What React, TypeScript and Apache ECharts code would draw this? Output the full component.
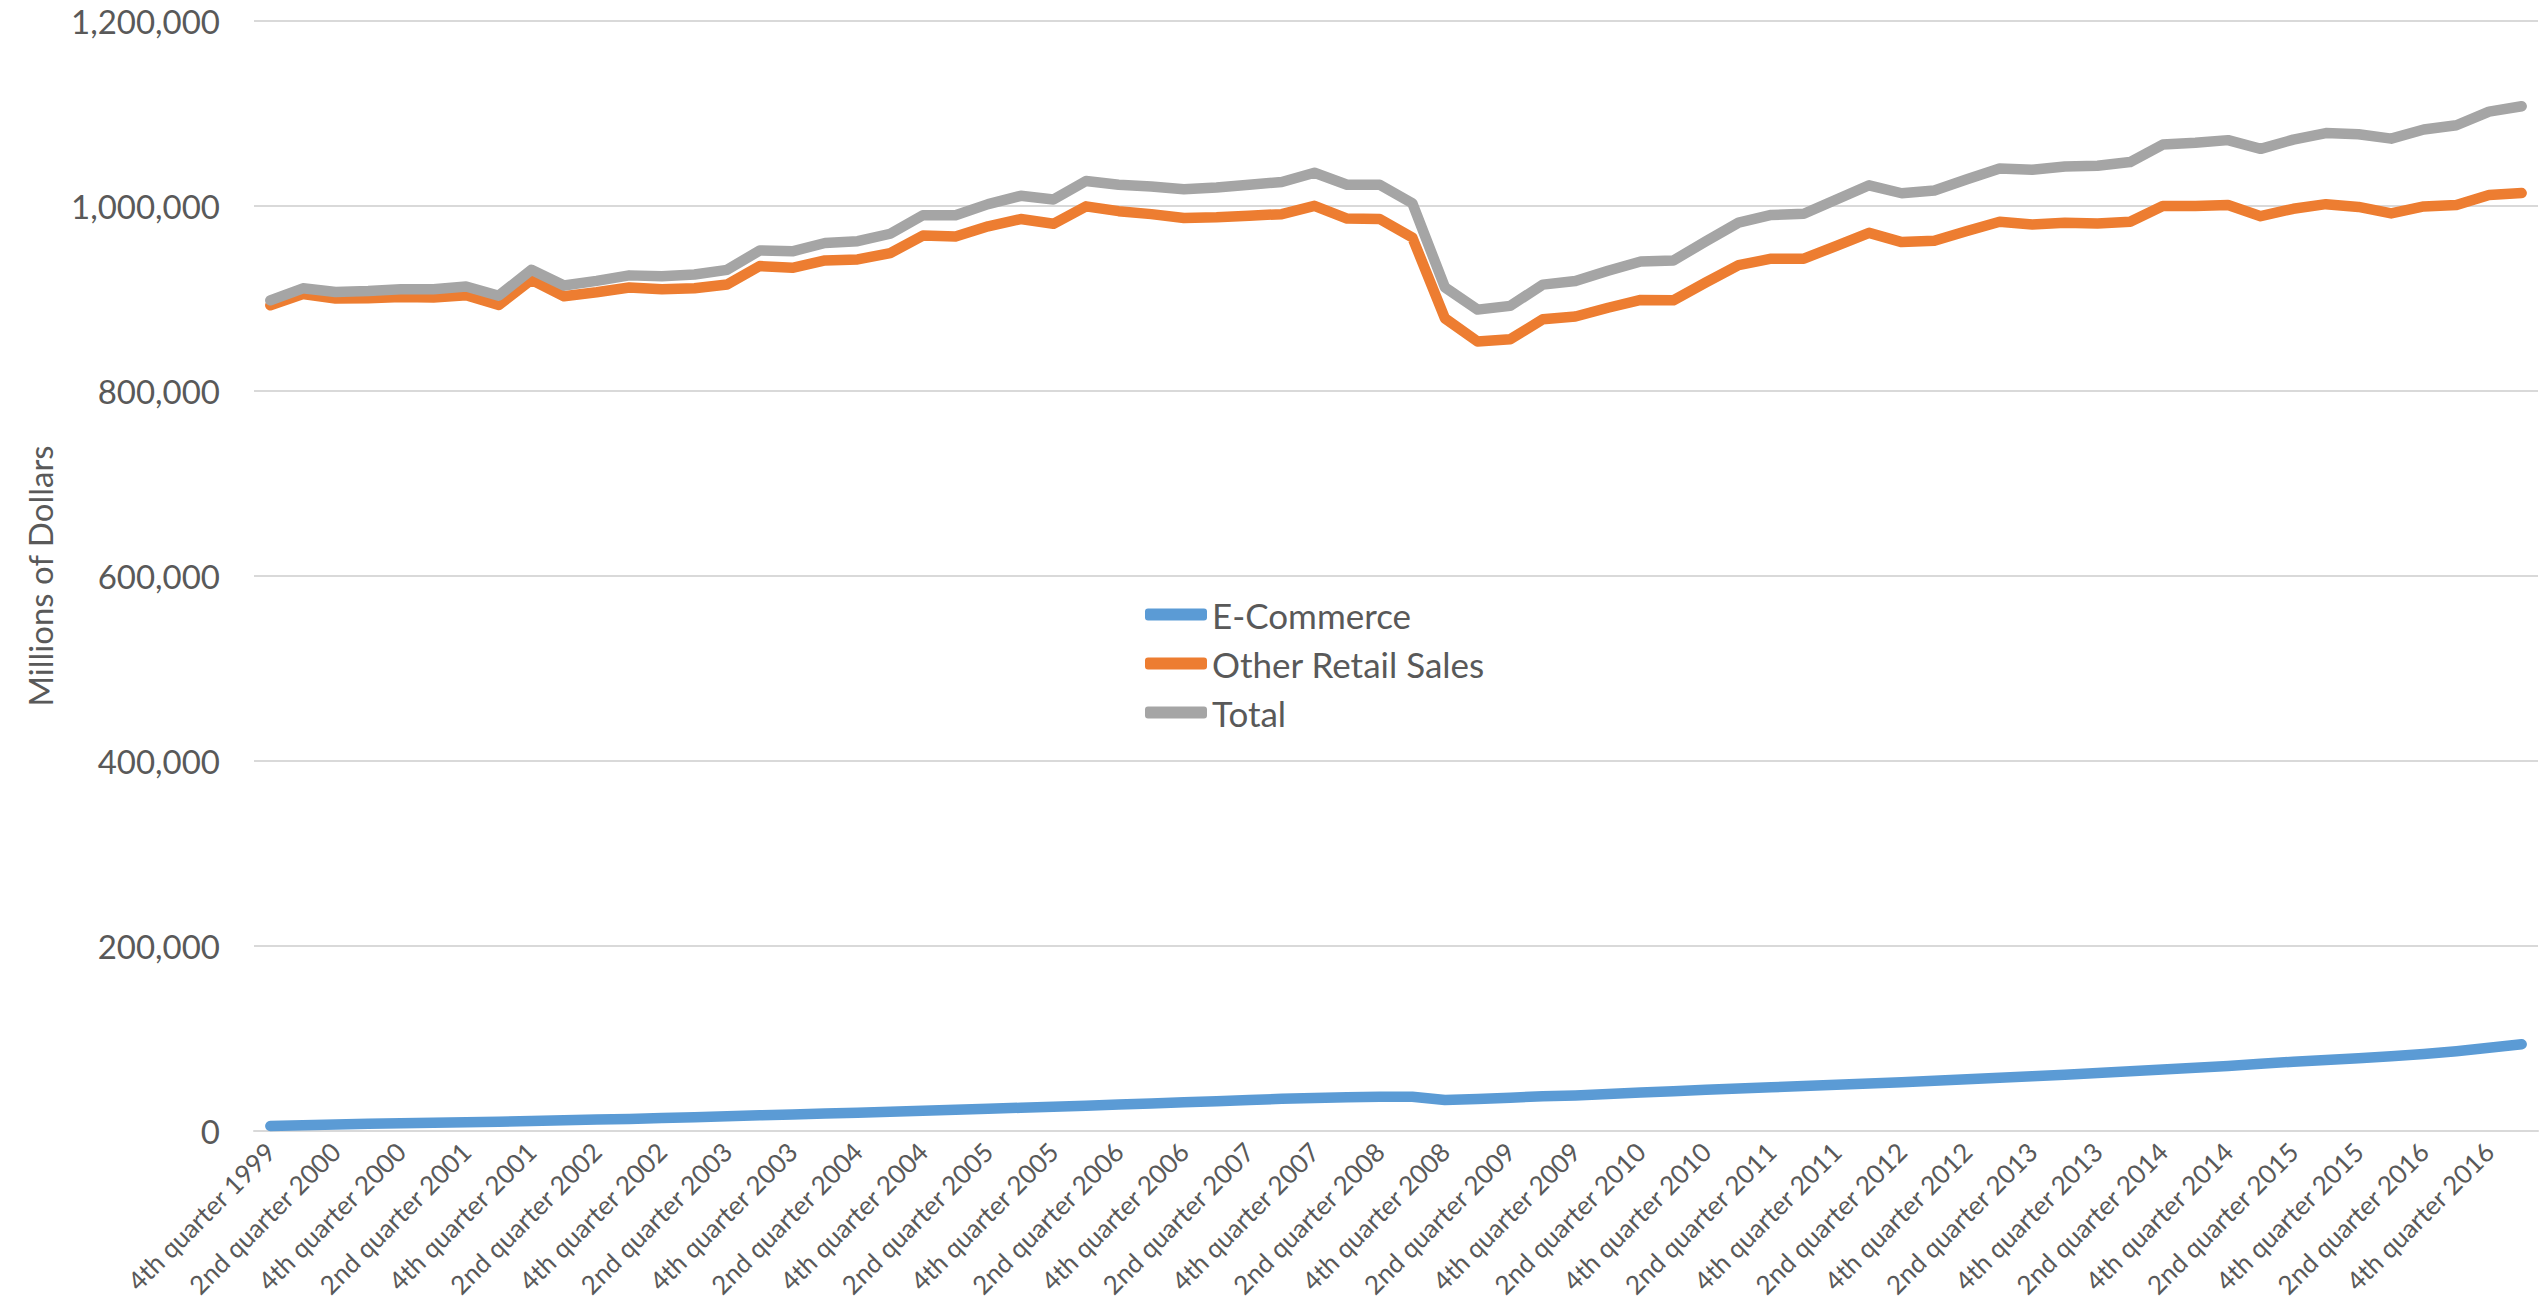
import React, { useEffect, useRef } from "react";
import * as echarts from "echarts";

const categories: string[] = [
  "4th quarter 1999",
  "1st quarter 2000", "2nd quarter 2000", "3rd quarter 2000", "4th quarter 2000",
  "1st quarter 2001", "2nd quarter 2001", "3rd quarter 2001", "4th quarter 2001",
  "1st quarter 2002", "2nd quarter 2002", "3rd quarter 2002", "4th quarter 2002",
  "1st quarter 2003", "2nd quarter 2003", "3rd quarter 2003", "4th quarter 2003",
  "1st quarter 2004", "2nd quarter 2004", "3rd quarter 2004", "4th quarter 2004",
  "1st quarter 2005", "2nd quarter 2005", "3rd quarter 2005", "4th quarter 2005",
  "1st quarter 2006", "2nd quarter 2006", "3rd quarter 2006", "4th quarter 2006",
  "1st quarter 2007", "2nd quarter 2007", "3rd quarter 2007", "4th quarter 2007",
  "1st quarter 2008", "2nd quarter 2008", "3rd quarter 2008", "4th quarter 2008",
  "1st quarter 2009", "2nd quarter 2009", "3rd quarter 2009", "4th quarter 2009",
  "1st quarter 2010", "2nd quarter 2010", "3rd quarter 2010", "4th quarter 2010",
  "1st quarter 2011", "2nd quarter 2011", "3rd quarter 2011", "4th quarter 2011",
  "1st quarter 2012", "2nd quarter 2012", "3rd quarter 2012", "4th quarter 2012",
  "1st quarter 2013", "2nd quarter 2013", "3rd quarter 2013", "4th quarter 2013",
  "1st quarter 2014", "2nd quarter 2014", "3rd quarter 2014", "4th quarter 2014",
  "1st quarter 2015", "2nd quarter 2015", "3rd quarter 2015", "4th quarter 2015",
  "1st quarter 2016", "2nd quarter 2016", "3rd quarter 2016", "4th quarter 2016",
  "1st quarter 2017",
];

const ecommerce: number[] = [
  5400, 6200, 7000, 7800, 8500, 9000, 9500, 10000, 10800, 11500,
  12300, 13100, 14000, 14900, 15900, 16900, 17800, 18800, 19800, 20900,
  22000, 23000, 24000, 25100, 26200, 27400, 28600, 29800, 31000, 32200,
  33500, 34800, 35800, 36600, 37000, 37000, 33500, 34500, 36000, 37500,
  38500, 40000, 41500, 43000, 44500, 46000, 47300, 48600, 50000, 51400,
  52800, 54300, 55900, 57500, 59100, 60800, 62600, 64500, 66400, 68300,
  70200, 72800, 74800, 76800, 78600, 80800, 83200, 86300, 90000, 93800,
];

const otherRetail: number[] = [
  892600, 904800, 900000, 900200, 901500, 901000, 903500, 893000, 920200, 902500,
  906700, 911900, 910000, 911100, 915100, 935100, 933200, 941200, 942200, 949100,
  968000, 967000, 978000, 985900, 980800, 999600, 994400, 991200, 987000, 987800,
  989500, 991200, 1000200, 986400, 986000, 966000, 878500, 853500, 856000, 877500,
  880500, 890000, 898500, 898000, 917500, 936000, 943000, 943000, 957000, 971000,
  961000, 962500, 973000, 983000, 980000, 982000, 981000, 983000, 1000000, 1000000,
  1001000, 989000, 997000, 1002000, 999000, 992000, 999500, 1001000, 1012000, 1014000,
];

const total: number[] = [
  898000, 911000, 907000, 908000, 910000, 910000, 913000, 903000, 931000, 914000,
  919000, 925000, 924000, 926000, 931000, 952000, 951000, 960000, 962000, 970000,
  990000, 990000, 1002000, 1011000, 1007000, 1027000, 1023000, 1021000, 1018000, 1020000,
  1023000, 1026000, 1036000, 1023000, 1023000, 1003000, 912000, 888000, 892000, 915000,
  919000, 930000, 940000, 941000, 962000, 982000, 990300, 991600, 1007000, 1022400,
  1013800, 1016800, 1028900, 1040500, 1039100, 1042800, 1043600, 1047500, 1066400, 1068300,
  1071200, 1061800, 1071800, 1078800, 1077600, 1072800, 1082700, 1087300, 1102000, 1107800,
];

const seriesNames = ["E-Commerce", "Other Retail Sales", "Total"];
const seriesColors = ["#5B9BD5", "#ED7D31", "#A5A5A5"];
const yMin = 0;
const yMax = 1200000;
const yStep = 200000;

export default function App() {
  const ref = useRef<HTMLDivElement>(null);

  useEffect(() => {
    if (!ref.current) return;
    const chart = echarts.init(ref.current, null, { renderer: "svg" });
    const dataSets = [ecommerce, otherRetail, total];
    chart.setOption({
      animation: false,
      backgroundColor: "#FFFFFF",
      textStyle: { fontFamily: "Lato" },
      grid: { left: 254, right: 4, top: 21, bottom: 183, containLabel: false },
      legend: {
        orient: "vertical",
        left: 1145,
        top: 597,
        padding: 0,
        itemWidth: 62,
        itemHeight: 12,
        itemGap: 14,
        icon: "roundRect",
        textStyle: { fontSize: 35, color: "#595959", lineHeight: 35, fontFamily: "Lato" },
        data: seriesNames,
      },
      xAxis: {
        type: "category",
        data: categories,
        boundaryGap: true,
        axisTick: { show: false },
        axisLine: { lineStyle: { color: "#D9D9D9", width: 2 } },
        axisLabel: {
          interval: 1,
          rotate: 45,
          fontSize: 26,
          color: "#595959",
          margin: 16,
          fontFamily: "Lato",
        },
      },
      yAxis: {
        type: "value",
        min: yMin,
        max: yMax,
        interval: yStep,
        name: "Millions of Dollars",
        nameLocation: "middle",
        nameGap: 198,
        nameTextStyle: { fontSize: 33, color: "#595959", fontFamily: "Lato" },
        axisLine: { show: false },
        axisTick: { show: false },
        axisLabel: {
          fontSize: 33,
          color: "#595959",
          margin: 34,
          fontFamily: "Lato",
          formatter: (v: number) => v.toLocaleString("en-US"),
        },
        splitLine: { lineStyle: { color: "#D9D9D9", width: 2 } },
      },
      series: seriesNames.map((name, i) => ({
        name,
        type: "line",
        data: dataSets[i],
        symbol: "none",
        showSymbol: false,
        color: seriesColors[i],
        lineStyle: { width: 10.5, color: seriesColors[i], cap: "round", join: "round" },
        z: 2 + i,
      })),
    });
    return () => chart.dispose();
  }, []);

  return (
    <div
      ref={ref}
      style={{ position: "fixed", left: 0, top: 0, width: 2542, height: 1314 }}
    />
  );
}
